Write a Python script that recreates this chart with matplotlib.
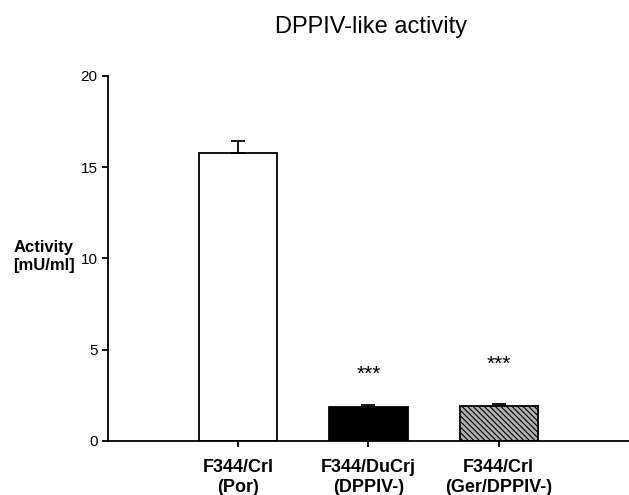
import matplotlib
matplotlib.use("Agg")
import matplotlib.pyplot as plt
import numpy as np

plt.rcParams["font.family"] = ["Liberation Sans", "DejaVu Sans"]
plt.rcParams["hatch.color"] = "#444444"
plt.rcParams["hatch.linewidth"] = 0.8

groups = ["F344/Crl\n(Por)", "F344/DuCrj\n(DPPIV-)", "F344/Crl\n(Ger/DPPIV-)"]
activity = [15.76, 1.88, 1.93]
sem = [0.70, 0.11, 0.10]
stars = ["", "***", "***"]
star_y = [0, 3.67, 4.2]

fig = plt.figure(figsize=(6.29, 4.95), dpi=100)
ax = fig.add_axes([0.1717, 0.1091, 0.8283, 0.7374])

x = np.arange(1, len(groups) + 1)
faces = ["white", "black", "#b0b0b0"]
hatches = [None, None, "\\\\\\\\\\\\"]
for xi, v, fc, h in zip(x, activity, faces, hatches):
    ax.bar(xi, v, width=0.6, color=fc, edgecolor="black", linewidth=1.3, hatch=h)
ax.errorbar(x, activity, yerr=[np.zeros(len(sem)), sem], fmt="none",
            ecolor="black", elinewidth=1.3, capsize=5, capthick=1.3)
for xi, s, sy in zip(x, stars, star_y):
    if s:
        ax.text(xi, sy, s, ha="center", va="center", fontsize=15)

ax.set_xlim(0, 4)
ax.set_ylim(0, 20)
ax.set_yticks([0, 5, 10, 15, 20])
ax.set_xticks(x, groups, fontweight="bold", fontsize=13)
ax.tick_params(axis="both", direction="out", length=4, width=1.3, labelsize=11)
ax.tick_params(axis="x", labelsize=13, pad=9)
for side in ["top", "right"]:
    ax.spines[side].set_visible(False)
for side in ["left", "bottom"]:
    ax.spines[side].set_linewidth(1.3)

fig.text(0.070, 0.482, "Activity\n[mU/ml]", ha="center", va="center",
         fontweight="bold", fontsize=12)
fig.text(0.59, 0.945, "DPPIV-like activity", ha="center", va="center", fontsize=17)

fig.savefig("out.png")
